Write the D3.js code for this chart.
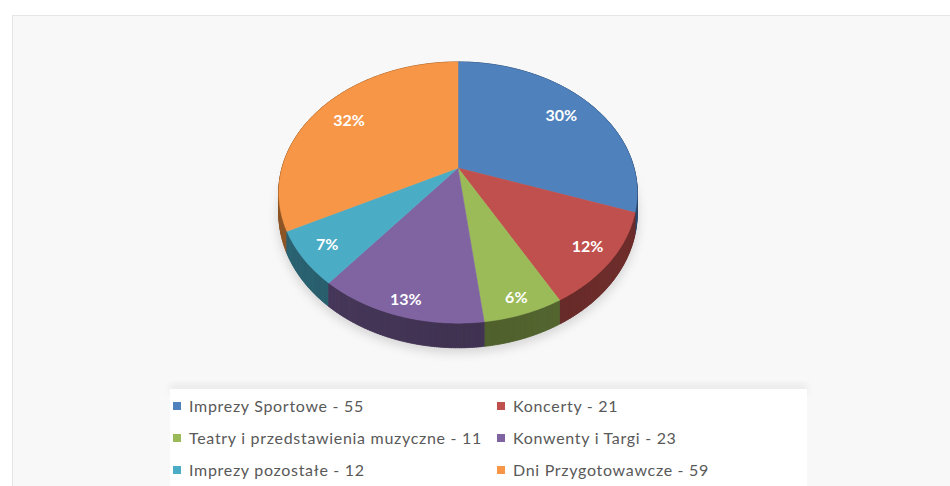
<!DOCTYPE html>
<html>
<head>
<meta charset="utf-8">
<script src="https://cdn.jsdelivr.net/npm/d3@7"></script>
<style>
  body { margin: 0; background: #fff; }
  svg { display: block; }
</style>
</head>
<body>
<div id="chart_root"></div>
<script>
const categories = ["Imprezy Sportowe", "Koncerty", "Teatry i przedstawienia muzyczne",
    "Konwenty i Targi", "Imprezy pozostałe", "Dni Przygotowawcze"];
const values = [55, 21, 11, 23, 12, 59];
const colors = ["#4f81bd", "#c0504d", "#9bbb59", "#8064a2", "#4bacc6", "#f79646"];

const width = 950;
const height = 486;

// pie geometry (tilted disc with a bit of perspective)
const cx = 458, cy = 168;
const A = 176, B = 126, k = 0.188, depth = 20;

const proj = (theta, r, dz = 0) => {
    const u = r * Math.sin(theta);
    const v = -r * Math.cos(theta);
    const den = 1 - k * v;
    return [cx + A * u / den, cy + (B * v + dz) / den];
};

const svg = d3.select("#chart_root")
    .append("svg")
    .attr("width", width)
    .attr("height", height);

const defs = svg.append("defs");
defs.append("filter").attr("id", "blur")
    .append("feGaussianBlur").attr("stdDeviation", 3);
defs.append("filter").attr("id", "blur2")
    .append("feGaussianBlur").attr("stdDeviation", 5);

// page panel
svg.append("rect")
    .attr("x", 12.5).attr("y", 15.5)
    .attr("width", width).attr("height", height)
    .attr("fill", "#f8f8f8")
    .attr("stroke", "#e6e6e6");

const total = d3.sum(values);
const arcs = d3.pie().sort(null).value(d => d)(values);

// percentages rounded so they add up to 100 (largest remainder)
const raw = values.map(v => v / total * 100);
const pct = raw.map(Math.floor);
const order = d3.range(raw.length).sort((a, b) => (raw[b] - pct[b]) - (raw[a] - pct[a]));
const missing = 100 - d3.sum(pct);
for (let j = 0; j < missing; j++) pct[order[j]] += 1;

// soft shadow under the disc
const shadowPts = d3.range(0, 2 * Math.PI, 0.05).map(t => proj(t, 1.01, depth + 3));
svg.append("path")
    .attr("d", "M" + shadowPts.map(q => q.join(",")).join("L") + "Z")
    .attr("fill", "#d8d8d8")
    .attr("filter", "url(#blur2)");

// rim of the disc, split in small pieces and painted back to front
const step = Math.PI / 360;
const rim = [];
arcs.forEach((a, i) => {
    for (let t = a.startAngle; t < a.endAngle; t += step) {
        const t2 = Math.min(t + step * 1.5, a.endAngle);
        rim.push({ i, t, t2, v: -Math.cos((t + t2) / 2) });
    }
});
rim.sort((a, b) => a.v - b.v);

const rimColor = d => d3.color(colors[d.i]).darker(1.9 - 0.4 * Math.abs(Math.sin((d.t + d.t2) / 2)));
svg.append("g")
    .selectAll("path")
    .data(rim)
    .enter()
    .append("path")
    .attr("d", d => {
        const p = [proj(d.t, 1), proj(d.t2, 1), proj(d.t2, 1, depth), proj(d.t, 1, depth)];
        return "M" + p.map(q => q.join(",")).join("L") + "Z";
    })
    .attr("fill", rimColor)
    .attr("stroke", rimColor)
    .attr("stroke-width", 0.6);

// top faces
svg.append("g")
    .selectAll("path")
    .data(arcs)
    .enter()
    .append("path")
    .attr("d", a => {
        const pts = [[cx, cy]];
        const n = Math.max(2, Math.ceil((a.endAngle - a.startAngle) / step));
        for (let j = 0; j <= n; j++) {
            pts.push(proj(a.startAngle + (a.endAngle - a.startAngle) * j / n, 1));
        }
        return "M" + pts.map(q => q.join(",")).join("L") + "Z";
    })
    .attr("fill", (a, i) => colors[i])
    .attr("stroke", (a, i) => colors[i])
    .attr("stroke-width", 0.5);

// percent labels
svg.append("g")
    .selectAll("text")
    .data(arcs)
    .enter()
    .append("text")
    .attr("transform", a => {
        const mid = (a.startAngle + a.endAngle) / 2;
        const f = 0.78 + 0.13 * Math.max(0, -Math.cos(mid));
        const p = proj(mid, f);
        return "translate(" + p[0] + "," + p[1] + ")";
    })
    .attr("text-anchor", "middle")
    .attr("dy", "0.35em")
    .style("font-family", "Lato, 'Open Sans', sans-serif")
    .style("font-weight", "bold")
    .style("font-size", "16px")
    .attr("fill", "#fff")
    .text((a, i) => pct[i] + "%");

// legend
const legendX = 170, legendY = 389;
svg.append("rect")
    .attr("x", legendX).attr("y", legendY - 6)
    .attr("width", 637).attr("height", 12)
    .attr("fill", "#ececec")
    .attr("filter", "url(#blur)");
svg.append("rect")
    .attr("x", legendX).attr("y", legendY)
    .attr("width", 637).attr("height", 110)
    .attr("fill", "#fff");

const colX = [173, 497];
const rowY = [406, 438, 470];
const item = svg.append("g")
    .selectAll("g")
    .data(categories)
    .enter()
    .append("g")
    .attr("transform", (d, i) => "translate(" + colX[i % 2] + "," + rowY[Math.floor(i / 2)] + ")");
item.append("rect")
    .attr("x", 0).attr("y", -4)
    .attr("width", 8).attr("height", 8)
    .attr("fill", (d, i) => colors[i]);
item.append("text")
    .attr("x", 16)
    .attr("dy", "0.35em")
    .style("font-family", "Lato, 'Open Sans', sans-serif")
    .style("font-size", "16px")
    .style("letter-spacing", "0.7px")
    .attr("fill", "#595959")
    .text((d, i) => d + " - " + values[i]);
</script>
</body>
</html>
